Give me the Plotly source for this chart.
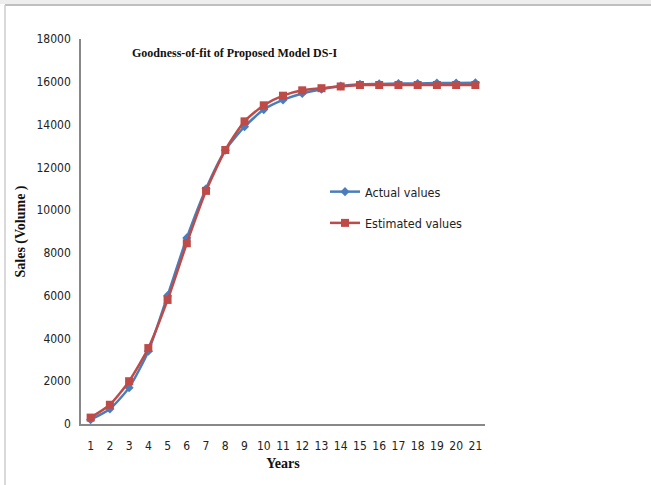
import plotly.graph_objects as go

years = [str(i) for i in range(1, 22)]
actual_values = [200, 700, 1700, 3400, 6000, 8700, 11000, 12800, 13900, 14700,
                 15150, 15450, 15650, 15800, 15880, 15900, 15920, 15920, 15940, 15940, 15950]
estimated_values = [300, 900, 2000, 3550, 5800, 8450, 10900, 12810, 14150, 14900,
                    15350, 15600, 15700, 15780, 15850, 15850, 15850, 15850, 15850, 15850, 15850]
y_ticks = list(range(0, 18001, 2000))
y_tick_labels = [str(v) for v in y_ticks]

BLUE = "#4A7EBB"
RED = "#BE4B48"
SANS = "DejaVu Sans Condensed, Liberation Sans, sans-serif"
TICK_FONT = dict(family=SANS, size=12, color="#222")
SERIF_B = "Liberation Serif, Times New Roman, serif"

fig = go.Figure()
fig.add_trace(go.Scatter(x=years, y=actual_values, name="Actual values", mode="lines+markers",
                         legendgroup="a",
                         line=dict(color=BLUE, width=2.5, shape="spline", smoothing=0.6),
                         marker=dict(symbol="diamond", size=7, color=BLUE)))
fig.add_trace(go.Scatter(x=years, y=estimated_values, name="Estimated values", mode="lines+markers",
                         legendgroup="b",
                         line=dict(color=RED, width=2.5, shape="spline", smoothing=0.6),
                         marker=dict(symbol="square", size=8, color=RED)))

L, R, T, B = 81, 485, 39, 424
W, H = 651, 485
def px(x):
    return (x - L) / (R - L)
def py(y):
    return (B - y) / (B - T)

fig.update_layout(
    width=W, height=H,
    margin=dict(l=L, r=W - R, t=T, b=H - B, pad=0, autoexpand=False),
    paper_bgcolor="white", plot_bgcolor="white",
    showlegend=True,
    legend=dict(x=px(325), y=py(177), xanchor="left", yanchor="top",
                font=dict(family=SANS, size=12.5, color="#222"),
                tracegroupgap=12, itemwidth=30, bgcolor="rgba(0,0,0,0)"),
    xaxis=dict(type="category", range=[-0.5, 20.5], showline=True, linecolor="#888", linewidth=1.5,
               showgrid=False, zeroline=False, ticks="", tickfont=TICK_FONT, ticklabelstandoff=10,
               automargin=False,
               title=dict(text="Years", font=dict(family=SERIF_B, size=14, color="#111", weight="bold"), standoff=6)),
    yaxis=dict(range=[0, 18000], tickvals=y_ticks, ticktext=y_tick_labels, showline=True, linecolor="#888",
               linewidth=1.5, showgrid=False, zeroline=False, ticks="", tickfont=TICK_FONT, ticklabelstandoff=6,
               automargin=False,
               title=dict(text="Sales (Volume )", font=dict(family=SERIF_B, size=14, color="#111", weight="bold"), standoff=8)),
)

fig.add_annotation(text="<b>Goodness-of-fit of Proposed Model DS-I</b>", xref="paper", yref="paper",
                   x=px(234), y=py(53), xanchor="center", yanchor="middle", showarrow=False,
                   font=dict(family=SERIF_B, size=12, color="#111"))

# outer frame
fig.add_shape(type="rect", xref="paper", yref="paper", x0=px(0), x1=px(W), y0=py(4), y1=py(0),
              line=dict(width=0), fillcolor="#eeeeee", layer="below")
fig.add_shape(type="line", xref="paper", yref="paper", x0=px(5), x1=px(W), y0=py(5), y1=py(5),
              line=dict(color="#aaaaaa", width=1.5))
fig.add_shape(type="line", xref="paper", yref="paper", x0=px(5), x1=px(5), y0=py(5), y1=py(H),
              line=dict(color="#cccccc", width=1.5))

fig.write_html("out.html", config={"displayModeBar": False},
               post_script="document.body.style.margin='0';")
